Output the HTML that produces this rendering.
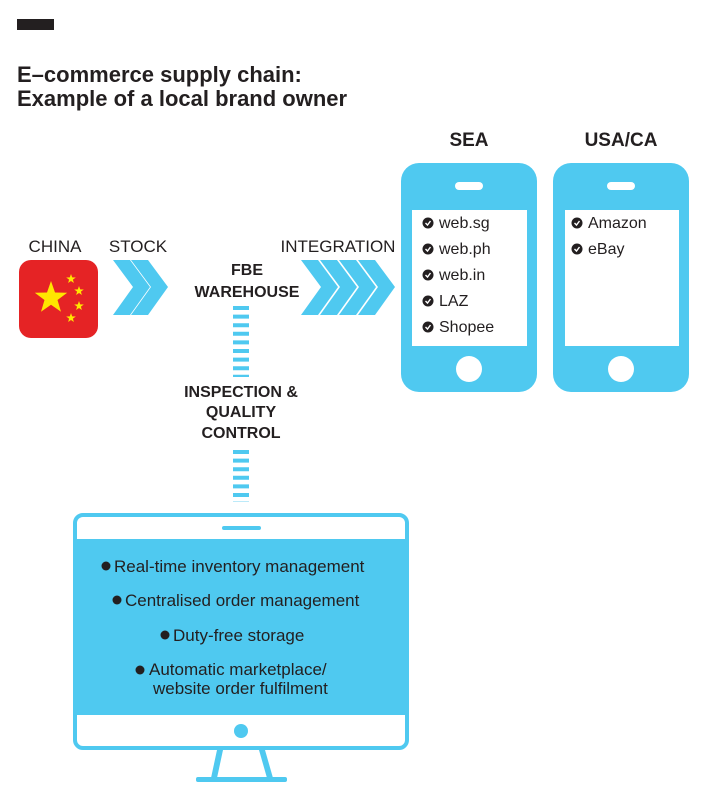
<!DOCTYPE html>
<html><head><meta charset="utf-8"><style>
html,body{margin:0;padding:0;background:#fff;}
svg{display:block;font-family:"Liberation Sans",sans-serif;}
</style></head><body>
<svg width="705" height="800" viewBox="0 0 705 800" xmlns="http://www.w3.org/2000/svg">
<defs>
<polygon id="st" points="0,-5 1.2,-1.6 4.8,-1.5 1.9,0.6 2.9,4 0,2 -2.9,4 -1.9,0.6 -4.8,-1.5 -1.2,-1.6"/>
</defs>
<rect x="17" y="19" width="37" height="11" fill="#231f20"/>
<text x="17" y="82" font-size="22" font-weight="bold" fill="#231f20">E–commerce supply chain:</text>
<text x="17" y="106" font-size="22" font-weight="bold" fill="#231f20">Example of a local brand owner</text>

<text x="55" y="252" font-size="17" text-anchor="middle" fill="#231f20">CHINA</text>
<text x="138" y="252" font-size="17" text-anchor="middle" fill="#231f20">STOCK</text>
<text x="338" y="252" font-size="17" text-anchor="middle" fill="#231f20">INTEGRATION</text>

<rect x="19" y="260" width="79" height="78" rx="12" fill="#e52325"/>
<g fill="#ffe600">
<polygon points="51,281 55.0,292.5 67.2,292.7 57.5,300 61.0,311.7 51,304.8 41.0,311.7 44.5,300 34.8,292.7 47.0,292.5"/>
<use href="#st" x="71" y="279"/><use href="#st" x="79" y="291"/><use href="#st" x="79" y="306"/><use href="#st" x="71" y="318"/>
</g>

<g fill="#4fc9f0">
<polygon points="113,260 130,260 150,287 130,315 113,315 133,287"/>
<polygon points="131,260 148,260 168,287 148,315 131,315 151,287"/>
<polygon points="301,260 318,260 338,287 318,315 301,315 321,287"/>
<polygon points="320,260 337,260 357,287 337,315 320,315 340,287"/>
<polygon points="339,260 356,260 376,287 356,315 339,315 359,287"/>
<polygon points="358,260 375,260 395,287 375,315 358,315 378,287"/>
</g>

<text x="247" y="275" font-size="16" font-weight="bold" text-anchor="middle" fill="#231f20">FBE</text>
<text x="247" y="297" font-size="16" font-weight="bold" text-anchor="middle" fill="#231f20">WAREHOUSE</text>
<text x="241" y="397" font-size="16" font-weight="bold" text-anchor="middle" fill="#231f20">INSPECTION &amp;</text>
<text x="241" y="417" font-size="16" font-weight="bold" text-anchor="middle" fill="#231f20">QUALITY</text>
<text x="241" y="438" font-size="16" font-weight="bold" text-anchor="middle" fill="#231f20">CONTROL</text>

<line x1="241" y1="306" x2="241" y2="377" stroke="#4fc9f0" stroke-width="16" stroke-dasharray="4 4.6"/>
<line x1="241" y1="450" x2="241" y2="502" stroke="#4fc9f0" stroke-width="16" stroke-dasharray="4 4.6"/>

<text x="469" y="146" font-size="19" font-weight="bold" text-anchor="middle" fill="#231f20">SEA</text>
<text x="621" y="146" font-size="19" font-weight="bold" text-anchor="middle" fill="#231f20">USA/CA</text>

<g>
<rect x="401" y="163" width="136" height="229" rx="18" fill="#4fc9f0"/>
<rect x="455" y="182" width="28" height="8" rx="4" fill="#fff"/>
<rect x="412" y="210" width="115" height="136" fill="#fff"/>
<circle cx="469" cy="369" r="13" fill="#fff"/>
<rect x="553" y="163" width="136" height="229" rx="18" fill="#4fc9f0"/>
<rect x="607" y="182" width="28" height="8" rx="4" fill="#fff"/>
<rect x="565" y="210" width="114" height="136" fill="#fff"/>
<circle cx="621" cy="369" r="13" fill="#fff"/>
</g>
<g font-size="16" fill="#231f20">
<g><circle cx="428" cy="223" r="5.5"/><text x="439" y="228">web.sg</text></g>
<g><circle cx="428" cy="249" r="5.5"/><text x="439" y="254">web.ph</text></g>
<g><circle cx="428" cy="275" r="5.5"/><text x="439" y="280">web.in</text></g>
<g><circle cx="428" cy="301" r="5.5"/><text x="439" y="306">LAZ</text></g>
<g><circle cx="428" cy="327" r="5.5"/><text x="439" y="332">Shopee</text></g>
<g><circle cx="577" cy="223" r="5.5"/><text x="588" y="228">Amazon</text></g>
<g><circle cx="577" cy="249" r="5.5"/><text x="588" y="254">eBay</text></g>
</g>
<g stroke="#fff" stroke-width="1.4" fill="none">
<path d="M425.5,223 l2,2 l3,-4"/><path d="M425.5,249 l2,2 l3,-4"/><path d="M425.5,275 l2,2 l3,-4"/><path d="M425.5,301 l2,2 l3,-4"/><path d="M425.5,327 l2,2 l3,-4"/>
<path d="M574.5,223 l2,2 l3,-4"/><path d="M574.5,249 l2,2 l3,-4"/>
</g>

<rect x="75" y="515" width="332" height="233" rx="8" fill="#fff" stroke="#4fc9f0" stroke-width="4"/>
<rect x="77" y="539" width="328" height="176" fill="#4fc9f0"/>
<rect x="222" y="526" width="39" height="4" rx="2" fill="#4fc9f0"/>
<circle cx="241" cy="731" r="7" fill="#4fc9f0"/>
<polygon points="217,750 223,750 217,778 211,778" fill="#4fc9f0"/>
<polygon points="259,750 265,750 273,778 267,778" fill="#4fc9f0"/>
<rect x="196" y="777" width="91" height="5" rx="2" fill="#4fc9f0"/>

<g font-size="17" fill="#231f20">
<circle cx="106" cy="566" r="4.5"/><text x="114" y="572">Real-time inventory management</text>
<circle cx="117" cy="600" r="4.5"/><text x="125" y="606">Centralised order management</text>
<circle cx="165" cy="635" r="4.5"/><text x="173" y="641">Duty-free storage</text>
<circle cx="140" cy="670" r="4.5"/><text x="149" y="675">Automatic marketplace/</text>
<text x="153" y="694">website order fulfilment</text>
</g>
</svg>
</body></html>
